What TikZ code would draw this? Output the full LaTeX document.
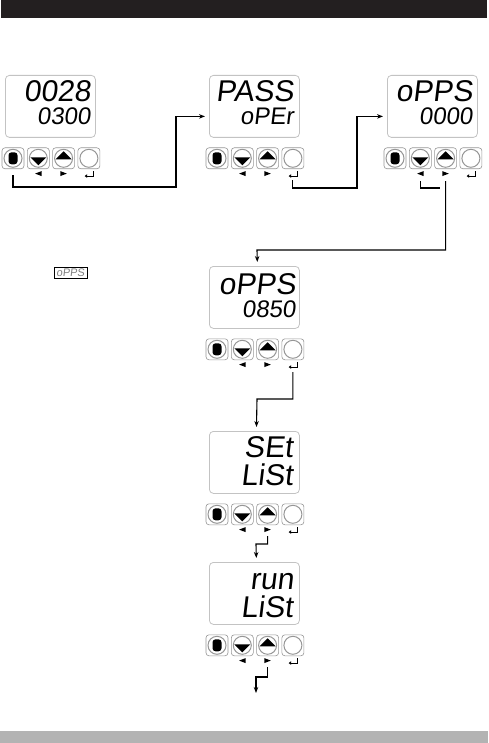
\documentclass[tikz,border=0pt]{standalone}
\usepackage{fontspec}
\setmainfont{Liberation Sans}
\newfontfamily\segfont[FakeSlant=0.12]{Liberation Sans}
\usetikzlibrary{arrows.meta, positioning, calc}
\definecolor{barcolor}{RGB}{35,31,32}
\definecolor{footcolor}{RGB}{179,179,179}
\definecolor{framecolor}{RGB}{195,195,195}
\definecolor{keycolor}{RGB}{150,150,150}
\tikzset{
  display/.style={
    rectangle,
    rounded corners=4pt,
    draw=framecolor,
    line width=0.8pt,
    minimum width=90pt,
    minimum height=62pt,
    inner sep=0pt
  },
  key/.style={
    rectangle,
    rounded corners=3pt,
    draw=keycolor,
    line width=0.6pt,
    minimum width=22pt,
    minimum height=21pt,
    inner sep=0pt
  },
  ring/.style={
    circle,
    draw=keycolor,
    line width=1pt,
    minimum size=18pt,
    inner sep=0pt
  },
  blob/.style={
    rectangle,
    rounded corners=3pt,
    fill=black,
    minimum width=9pt,
    minimum height=12pt,
    inner sep=0pt
  },
  hint/.style={
    rectangle,
    minimum width=6pt,
    minimum height=4.5pt,
    inner sep=0pt
  },
  bigseg/.style={
    anchor=base east,
    inner sep=0pt,
    text height=22pt,
    text depth=0pt,
    font=\segfont\fontsize{30}{30}\selectfont
  },
  smallseg/.style={
    anchor=base east,
    inner sep=0pt,
    text height=17pt,
    text depth=0pt,
    font=\segfont\fontsize{24}{24}\selectfont
  },
  flow/.style={
    -{Stealth[length=6pt,width=4.5pt]},
    line width=1.1pt,
    shorten >=4pt
  },
  link/.style={
    line width=1.1pt
  }
}

% display with its four keys
\newcommand{\panel}[3]{%
  \node[display, anchor=north west] (#1) at (#2,#3) {};
  \node[key] (#1k1) at ($(#1.south west)+(8,20.5)$) {};
  \node[key] (#1k2) at ($(#1k1)+(25.3,0)$) {};
  \node[key] (#1k3) at ($(#1k2)+(25.3,0)$) {};
  \node[key] (#1k4) at ($(#1k3)+(25.3,0)$) {};
  \node[ring] at (#1k1) {};
  \node[ring] at (#1k2) {};
  \node[ring] at (#1k3) {};
  \node[ring] at (#1k4) {};
  \node[blob] at (#1k1) {};
  \fill ($(#1k2)+(-8,-1)$) -- ++(16,0) -- ++(-8,8) -- cycle;
  \fill ($(#1k3)+(-8,1)$) -- ++(16,0) -- ++(-8,-8) -- cycle;
  \node[hint] (#1g2) at ($(#1k2.south)+(0,4.5)$) {};
  \node[hint] (#1g3) at ($(#1k3.south)+(0,4.5)$) {};
  \node[hint, minimum width=8pt] (#1g4) at ($(#1k4.south)+(0,4.5)$) {};
  \fill (#1g2.west) -- (#1g2.north east) -- (#1g2.south east) -- cycle;
  \fill (#1g3.east) -- (#1g3.north west) -- (#1g3.south west) -- cycle;
  \draw[line width=1pt, -{Triangle[length=2.5pt,width=3.5pt]}]
    (#1g4.north east) |- (#1g4.south west);
}

\begin{document}
\begin{tikzpicture}[x=1pt, y=-1pt]
\useasboundingbox (0,0) rectangle (488,743);

% Bars
\fill[barcolor] (1,0) rectangle (487,18);
\fill[footcolor] (0,731) rectangle (488,743);

% Panels
\panel{p1}{5}{75}
\panel{p2}{209}{75}
\panel{p3}{387}{75}
\panel{p4}{209}{266}
\panel{p5}{209}{431}
\panel{p6}{209}{562}

% Display texts
\node[bigseg] (p1top) at ($(p1.north east)+(-5,27)$) {0028};
\node[smallseg] (p1bot) at ($(p1.north east)+(-5,50)$) {0300};
\node[bigseg] (p2top) at ($(p2.north east)+(-6,27)$) {PASS};
\node[smallseg] (p2bot) at ($(p2.north east)+(-6,50)$) {oPEr};
\node[bigseg] (p3top) at ($(p3.north east)+(-5,27)$) {oPPS};
\node[smallseg] (p3bot) at ($(p3.north east)+(-5,50)$) {0000};
\node[bigseg] (p4top) at ($(p4.north east)+(-4,28)$) {oPPS};
\node[smallseg] (p4bot) at ($(p4.north east)+(-4,51)$) {0850};
\node[bigseg] (p5top) at ($(p5.north east)+(-7,26)$) {SEt};
\node[bigseg] (p5bot) at ($(p5.north east)+(-7,54)$) {LiSt};
\node[bigseg] (p6top) at ($(p6.north east)+(-6,27)$) {run};
\node[bigseg] (p6bot) at ($(p6.north east)+(-7,55)$) {LiSt};

% Small tag
\node[draw, line width=0.8pt, inner sep=0pt, minimum width=33pt, minimum height=11pt,
  text=gray, font=\segfont\fontsize{11}{11}\selectfont] (tag) at (70.5,272.5) {oPPS};

% Connectors
\coordinate (s1) at ($(p1k1.south)+(0,6)$);
\coordinate (s2) at ($(p2g4.south)+(0,4)$);
\coordinate (s3) at ($(p3g2.south)+(0,5)$);
\coordinate (s4) at ($(p3g3.south)+(0,5)$);
\coordinate (s5) at ($(p4g4.south)+(0,5)$);
\coordinate (s6) at ($(p5g3.south)+(0,4)$);
\coordinate (s7) at ($(p6g3.south)+(0,4)$);
\coordinate (fin) at (256,697);

\draw[flow] (s1) |- (176,187) |- ([yshift=-10pt]p2.west);
\draw[flow] (s2) |- (357,188) |- ([yshift=-10pt]p3.west);
\draw[link] (s3) |- (440,188);
\draw[flow] (s4) |- (257,250) -- ([xshift=3pt]p4.north);
\draw[flow] (s5) |- (257,399) -- ([xshift=2pt]p5.north);
\draw[flow] (s6) |- (256,544) -- ([xshift=2pt]p6.north);
\draw[flow] (s7) |- (256,677) -- (fin);

\end{tikzpicture}
\end{document}
